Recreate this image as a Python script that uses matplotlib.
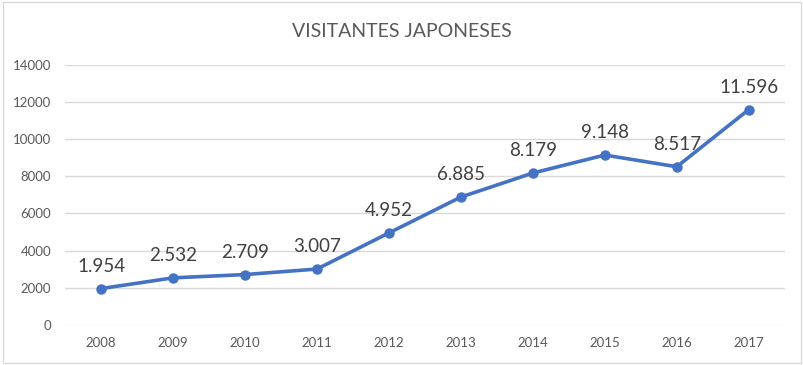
import matplotlib.pyplot as plt
from matplotlib.patches import Rectangle

years = ["2008", "2009", "2010", "2011", "2012", "2013", "2014", "2015", "2016", "2017"]
visitors = [1954, 2532, 2709, 3007, 4952, 6885, 8179, 9148, 8517, 11596]
labels = ["1.954", "2.532", "2.709", "3.007", "4.952", "6.885", "8.179", "9.148", "8.517", "11.596"]

plt.rcParams["font.family"] = ["Lato", "DejaVu Sans"]
grey = "#595959"

fig = plt.figure(figsize=(8.04, 3.65), dpi=100)
ax = fig.add_axes([0.081, 0.11, 0.895, 0.712])

x = range(len(years))
ax.plot(x, visitors, color="#4472C4", linewidth=2.6, marker="o", markersize=6.5)
for i, v in enumerate(visitors):
    ax.annotate(labels[i], (i, v), xytext=(0, 10), textcoords="offset points",
                ha="center", va="bottom", fontsize=13.5, color="#404040")

ax.set_xlim(-0.5, len(years) - 0.5)
ax.set_ylim(0, 14000)
ax.set_yticks(range(0, 14001, 2000))
ax.set_xticks(list(x))
ax.set_xticklabels(years)
ax.tick_params(length=0, labelsize=9.5, colors=grey, pad=9)
ax.tick_params(axis="y", pad=10)
ax.grid(axis="y", color="#D9D9D9", linewidth=1)
ax.set_axisbelow(True)
for s in ax.spines.values():
    s.set_visible(False)

fig.text(0.5, 0.915, "VISITANTES JAPONESES", ha="center", va="center", fontsize=14, color=grey)
fig.patches.append(Rectangle((0.004, 0.006), 0.992, 0.988, transform=fig.transFigure,
                             fill=False, edgecolor="#D9D9D9", linewidth=1))

plt.savefig("out.png")
